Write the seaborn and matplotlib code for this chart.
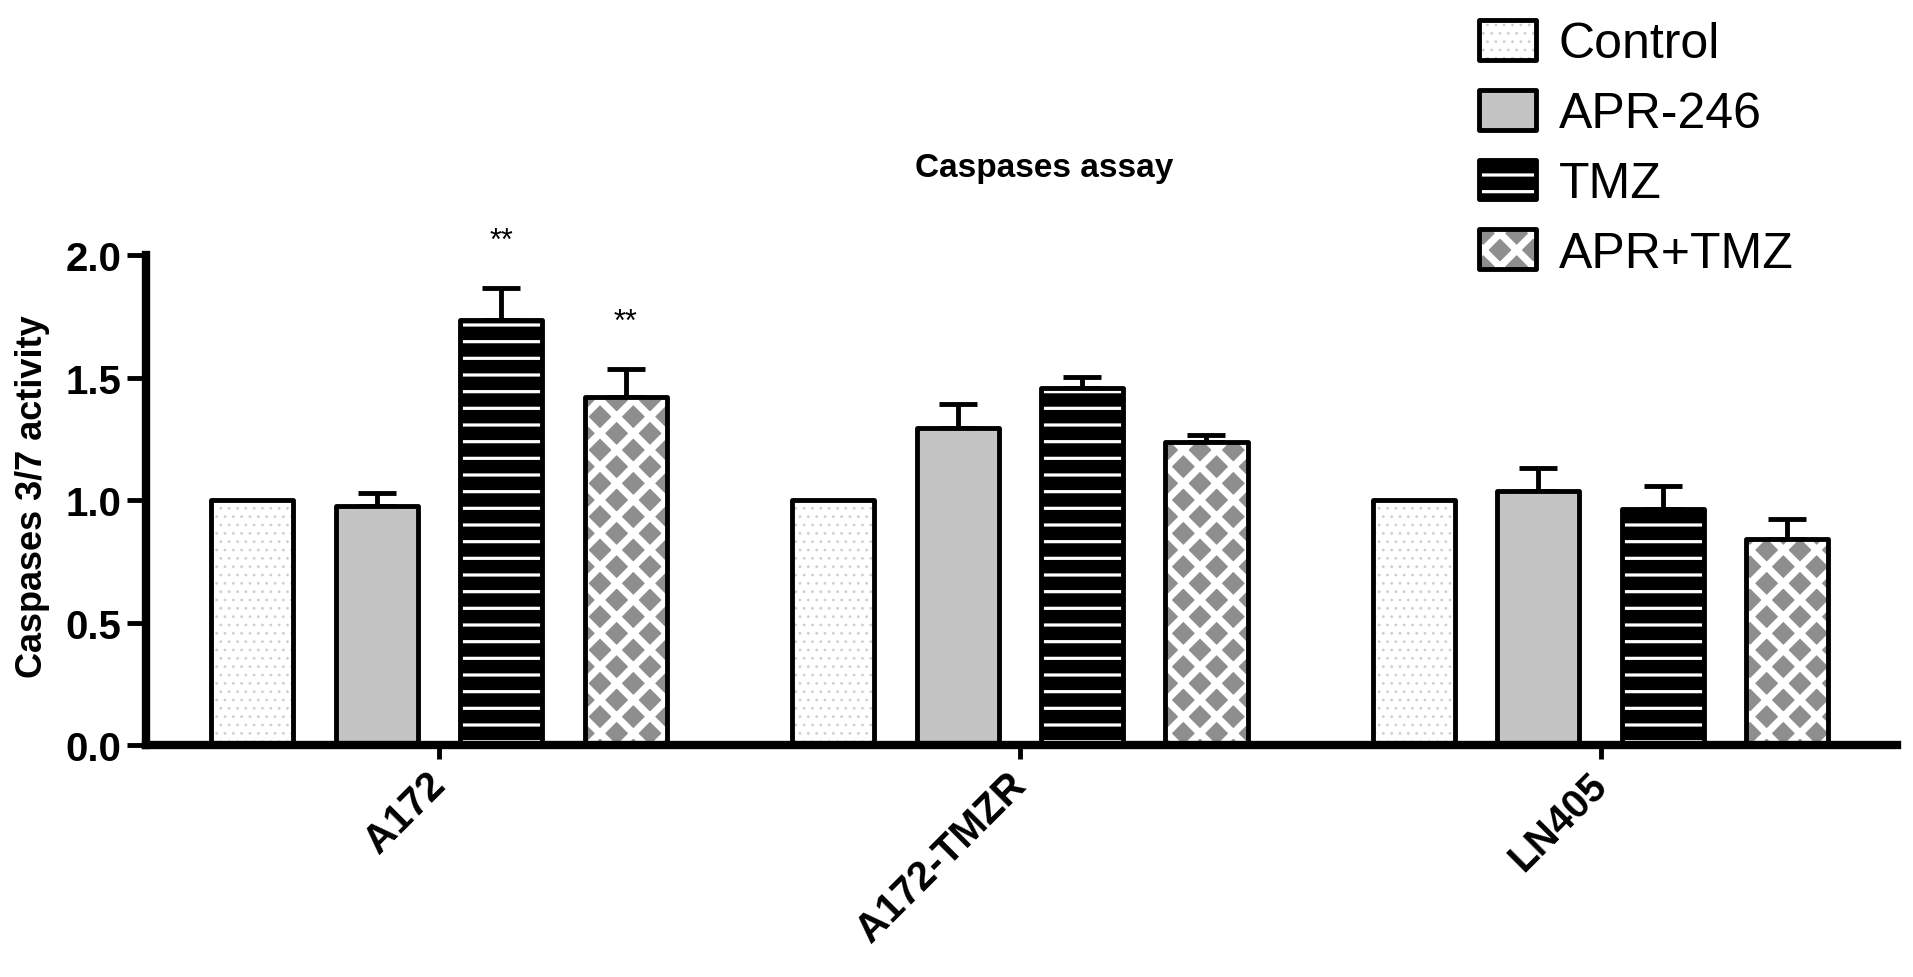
import numpy as np
import pandas as pd
import matplotlib
matplotlib.use("Agg")
import matplotlib.pyplot as plt
import matplotlib.colors as mcolors
import seaborn as sns

# datos
cells = ["A172", "A172-TMZR", "LN405"]
treatments = ["Control", "APR-246", "TMZ", "APR+TMZ"]

control = [1.0, 1.0, 1.0]
apr246 = [0.978, 1.295, 1.037]
tmz = [1.737, 1.459, 0.963]
apr_tmz = [1.423, 1.236, 0.842]

err_control = [0.0, 0.0, 0.0]
err_apr246 = [0.051, 0.098, 0.096]
err_tmz = [0.130, 0.045, 0.096]
err_apr_tmz = [0.113, 0.031, 0.083]

stars = {("A172", "TMZ"): "**", ("A172", "APR+TMZ"): "**"}

means = [control, apr246, tmz, apr_tmz]
errs = [err_control, err_apr246, err_tmz, err_apr_tmz]

df = pd.DataFrame({
    "cell": cells * 4,
    "treatment": np.repeat(treatments, 3),
    "value": sum(means, []),
})

sns.set_style("ticks")
plt.rcParams["font.family"] = ["Liberation Sans", "DejaVu Sans"]
plt.rcParams["text.color"] = "black"
plt.rcParams["axes.labelcolor"] = "black"
plt.rcParams["xtick.color"] = "black"
plt.rcParams["ytick.color"] = "black"
plt.rcParams["axes.edgecolor"] = "black"

fills = ["white", "#c4c4c4", "black", "#8e8e8e"]
hatches = ["..", "", "-", "x"]
hatch_cols = ["#cfcfcf", "#c4c4c4", "white", "white"]
hatch_lws = [0.8, 1.0, 2.3, 5.2]


def estilo(p, i):
    p.set_hatch(hatches[i])
    p._hatch_color = mcolors.to_rgba(hatch_cols[i])
    if hasattr(p, "set_hatch_linewidth"):
        p.set_hatch_linewidth(hatch_lws[i])
    p.set_joinstyle("round")


fig = plt.figure(figsize=(19.13, 9.78), dpi=100)
ax = fig.add_axes([0.0765, 0.237, 0.915, 0.501])

sns.barplot(data=df, x="cell", y="value", hue="treatment", order=cells,
            hue_order=treatments, palette=fills, errorbar=None,
            width=0.857, gap=0.34, edgecolor="black", linewidth=3.5,
            saturation=1, ax=ax, legend=True)

bars = list(ax.containers)
for i, cont in enumerate(bars):
    xs = []
    for p in cont:
        estilo(p, i)
        p.set_zorder(3)
        xs.append(p.get_x() + p.get_width() / 2)
    xs = np.array(xs)
    m = np.array(means[i])
    e = np.array(errs[i])
    keep = e > 0
    if keep.any():
        ax.errorbar(xs[keep], m[keep], yerr=[np.zeros(keep.sum()), e[keep]],
                    fmt="none", ecolor="black", elinewidth=3.5, capsize=14,
                    capthick=3.5, zorder=2)
    for j, c in enumerate(cells):
        s = stars.get((c, treatments[i]))
        if s:
            ax.text(xs[j], m[j] + e[j] + 0.13, s, ha="center", va="bottom",
                    fontsize=22)

ax.set_ylim(0, 2.0)
ax.set_xlim(-0.504, 2.51)
ax.set_yticks([0, 0.5, 1.0, 1.5, 2.0])
ax.set_yticklabels(["0.0", "0.5", "1.0", "1.5", "2.0"], fontsize=29, fontweight="bold")
ax.set_xticklabels(cells, fontsize=29, fontweight="bold", rotation=45,
                   ha="right", va="center", rotation_mode="anchor")
ax.tick_params(axis="y", length=14, width=3.5, pad=4)
ax.tick_params(axis="x", length=10, width=3.5, pad=14)

sns.despine(ax=ax)
for s in ["left", "bottom"]:
    ax.spines[s].set_linewidth(6)
    ax.spines[s].set_zorder(4)

ax.set_xlabel("")
ax.set_ylabel("Caspases 3/7 activity", fontsize=26, fontweight="bold")
ax.yaxis.set_label_coords(-0.055, 0.51)
ax.set_title("Caspases assay", fontsize=24, fontweight="bold", pad=57, x=0.513)

handles, labels = ax.get_legend_handles_labels()
ax.get_legend().remove()
for i, h in enumerate(handles):
    estilo(h, i)
    h.set_edgecolor("black")
    h._hatch_color = mcolors.to_rgba(hatch_cols[i])
    h.set_linewidth(3.5)
leg = fig.legend(handles, labels, loc="upper left", bbox_to_anchor=(0.760, 1.004),
                 frameon=False, fontsize=36, handlelength=1.15, handleheight=0.85,
                 labelspacing=0.45, handletextpad=0.45, borderpad=0)
# la leyenda copia los parches, hay que repetir el estilo del rayado
for i, h in enumerate(leg.legend_handles):
    estilo(h, i)
    h.set_edgecolor("black")
    h._hatch_color = mcolors.to_rgba(hatch_cols[i])

fig.savefig("out.png", dpi=100)
